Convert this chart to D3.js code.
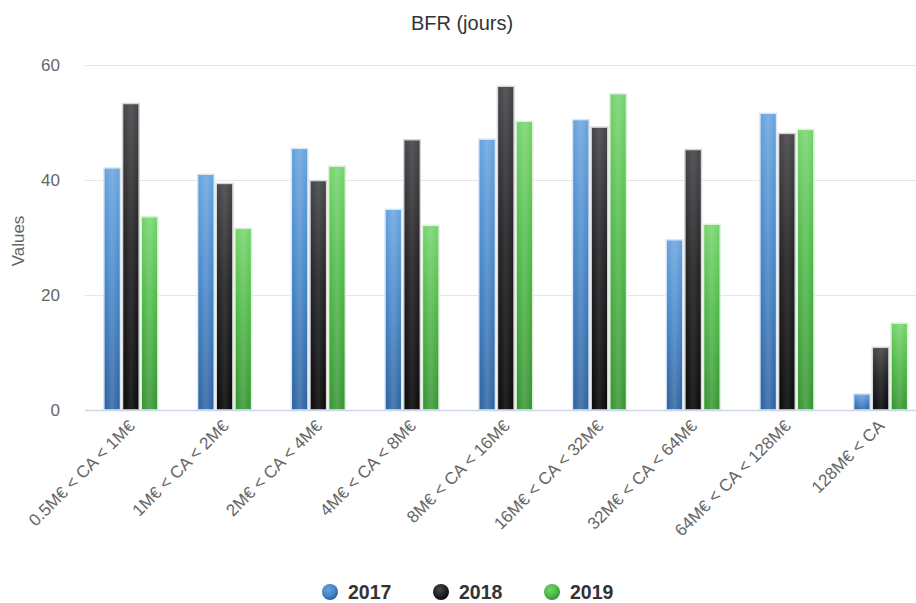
<!DOCTYPE html>
<html>
<head>
<meta charset="utf-8">
<script src="https://cdn.jsdelivr.net/npm/d3@7"></script>
<style>
  body { margin: 0; background: #fff; }
  svg { font-family: "Liberation Sans", Arial, Helvetica, sans-serif; }
</style>
</head>
<body>
<div id="chart"></div>
<script>
var w = 916,
    h = 603;

// data
var categories = ["0.5M€ < CA < 1M€", "1M€ < CA < 2M€", "2M€ < CA < 4M€", "4M€ < CA < 8M€",
    "8M€ < CA < 16M€", "16M€ < CA < 32M€", "32M€ < CA < 64M€", "64M€ < CA < 128M€", "128M€ < CA"];
var years = ["2017", "2018", "2019"];
var values2017 = [42.1, 41.0, 45.5, 34.9, 47.1, 50.5, 29.6, 51.6, 2.8];
var values2018 = [53.3, 39.4, 39.9, 47.0, 56.3, 49.2, 45.3, 48.1, 10.9];
var values2019 = [33.6, 31.6, 42.4, 32.1, 50.2, 55.0, 32.3, 48.8, 15.1];
var yTicks = [0, 20, 40, 60];

var seriesValues = { "2017": values2017, "2018": values2018, "2019": values2019 };

var palette = {
    "2017": { light: "#67a3df", mid: "#4787c9", dark: "#2b62a0", edge: "#dbe7f4" },
    "2018": { light: "#47474b", mid: "#242427", dark: "#0a0a0b", edge: "#d6d6d6" },
    "2019": { light: "#74d46c", mid: "#4fb948", dark: "#369431", edge: "#dcf0da" }
};

var svg = d3.select("#chart").append("svg")
    .attr("width", w)
    .attr("height", h);

var defs = svg.append("defs");

years.forEach(function(y) {
    var p = palette[y];
    // vertical shading
    var g = defs.append("linearGradient")
        .attr("id", "bar-" + y)
        .attr("x1", 0).attr("y1", 0).attr("x2", 0).attr("y2", 1);
    g.append("stop").attr("offset", "0%").attr("stop-color", p.light);
    g.append("stop").attr("offset", "45%").attr("stop-color", p.mid);
    g.append("stop").attr("offset", "100%").attr("stop-color", p.dark);

    // horizontal sheen
    var s = defs.append("linearGradient")
        .attr("id", "sheen-" + y)
        .attr("x1", 0).attr("y1", 0).attr("x2", 1).attr("y2", 0);
    s.append("stop").attr("offset", "0%").attr("stop-color", "#fff").attr("stop-opacity", 0);
    s.append("stop").attr("offset", "50%").attr("stop-color", "#fff").attr("stop-opacity", y == "2018" ? 0.1 : 0.16);
    s.append("stop").attr("offset", "100%").attr("stop-color", "#fff").attr("stop-opacity", 0);

    var r = defs.append("radialGradient")
        .attr("id", "dot-" + y)
        .attr("cx", "40%").attr("cy", "35%").attr("r", "65%");
    r.append("stop").attr("offset", "0%").attr("stop-color", p.light);
    r.append("stop").attr("offset", "60%").attr("stop-color", p.mid);
    r.append("stop").attr("offset", "100%").attr("stop-color", p.dark);
});

var x = d3.scaleBand()
    .domain(categories)
    .range([84, 927.5]);

var xInner = d3.scaleBand()
    .domain(years)
    .range([x.bandwidth() / 2 - 27, x.bandwidth() / 2 + 27])
    .paddingInner(0.11);

var y = d3.scaleLinear()
    .domain([0, 60])
    .range([410, 65]);

// title
svg.append("text")
    .attr("x", 462)
    .attr("y", 30)
    .attr("text-anchor", "middle")
    .style("font-size", "20px")
    .style("fill", "#333")
    .text("BFR (jours)");

// grid
svg.append("g")
    .selectAll("line")
    .data(yTicks.filter(function(d) { return d > 0; }))
    .enter().append("line")
    .attr("x1", 85)
    .attr("x2", w)
    .attr("y1", function(d) { return y(d) + 0.5; })
    .attr("y2", function(d) { return y(d) + 0.5; })
    .style("stroke", "#e6e6e6")
    .style("stroke-width", 1);

// y axis labels
var yAxis = svg.append("g")
    .attr("transform", "translate(85,0)")
    .call(d3.axisLeft(y).tickValues(yTicks).tickSize(0).tickPadding(25));
yAxis.select(".domain").remove();
yAxis.selectAll("text")
    .style("font-size", "17px")
    .style("fill", "#666")
    .style("font-family", "'Liberation Sans', Arial, sans-serif");

svg.append("text")
    .attr("transform", "translate(24,241) rotate(-90)")
    .attr("text-anchor", "middle")
    .style("font-size", "17px")
    .style("fill", "#666")
    .text("Values");

// bars
var groups = svg.append("g")
    .selectAll("g")
    .data(categories)
    .enter().append("g")
    .attr("transform", function(d) { return "translate(" + x(d) + ",0)"; });

var bars = groups.selectAll("g.bar")
    .data(function(d, i) {
        return years.map(function(yr) { return { year: yr, value: seriesValues[yr][i] }; });
    })
    .enter().append("g")
    .attr("class", "bar");

bars.append("rect")
    .attr("x", function(d) { return xInner(d.year); })
    .attr("y", function(d) { return y(d.value); })
    .attr("width", xInner.bandwidth())
    .attr("height", function(d) { return y(0) - y(d.value); })
    .style("fill", function(d) { return "url(#bar-" + d.year + ")"; })
    .style("stroke", function(d) { return palette[d.year].edge; })
    .style("stroke-width", 1.5);

bars.append("rect")
    .attr("x", function(d) { return xInner(d.year) + 1; })
    .attr("y", function(d) { return y(d.value) + 1; })
    .attr("width", xInner.bandwidth() - 2)
    .attr("height", function(d) { return Math.max(0, y(0) - y(d.value) - 1); })
    .style("fill", function(d) { return "url(#sheen-" + d.year + ")"; });

// x axis line
svg.append("line")
    .attr("x1", 85)
    .attr("x2", w)
    .attr("y1", y(0) + 0.5)
    .attr("y2", y(0) + 0.5)
    .style("stroke", "#ccd6eb")
    .style("stroke-width", 1.5);

// x labels
svg.append("g")
    .selectAll("text")
    .data(categories)
    .enter().append("text")
    .attr("transform", function(d) {
        return "translate(" + (x(d) + x.bandwidth() / 2 + 5) + ",427) rotate(-45)";
    })
    .attr("text-anchor", "end")
    .style("font-size", "17px")
    .style("fill", "#666")
    .text(function(d) { return d; });

// legend
var legendX = [330, 441, 552];
var legend = svg.append("g")
    .selectAll("g")
    .data(years)
    .enter().append("g")
    .attr("transform", function(d, i) { return "translate(" + legendX[i] + ",592)"; });

legend.append("circle")
    .attr("r", 8)
    .style("fill", function(d) { return "url(#dot-" + d + ")"; });

legend.append("text")
    .attr("x", 18)
    .attr("y", 7)
    .style("font-size", "19.5px")
    .style("font-weight", "bold")
    .style("fill", "#333")
    .text(function(d) { return d; });
</script>
</body>
</html>
